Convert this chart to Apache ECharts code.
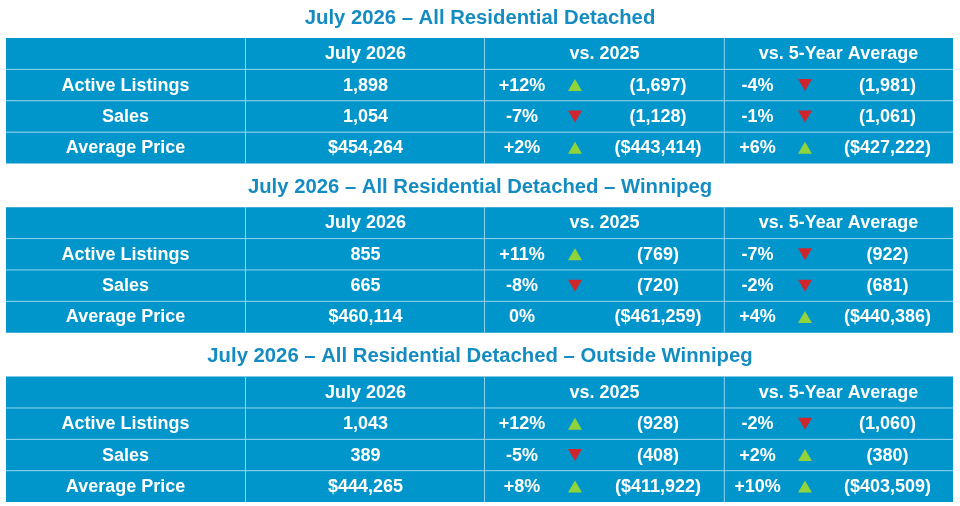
<!DOCTYPE html>
<html>
<head>
<meta charset="utf-8">
<script src="https://cdn.jsdelivr.net/npm/echarts@6/dist/echarts.min.js"></script>
<style>
  html, body { margin: 0; padding: 0; background: #fff; }
  #chart { width: 960px; height: 506px; }
</style>
</head>
<body>
<div id="chart"></div>
<script>
// table data
const tableTitles = [
  'July 2026 \u2013 All Residential Detached',
  'July 2026 \u2013 All Residential Detached \u2013 Winnipeg',
  'July 2026 \u2013 All Residential Detached \u2013 Outside Winnipeg'
];
const columnHeaders = ['', 'July 2026', 'vs. 2025', 'vs. 5-Year Average'];
const rowLabels = ['Active Listings', 'Sales', 'Average Price'];

const julyValues = [
  ['1,898', '1,054', '$454,264'],
  ['855', '665', '$460,114'],
  ['1,043', '389', '$444,265']
];
const vs2025Pct = [
  ['+12%', '-7%', '+2%'],
  ['+11%', '-8%', '0%'],
  ['+12%', '-5%', '+8%']
];
const prev2025 = [
  ['(1,697)', '(1,128)', '($443,414)'],
  ['(769)', '(720)', '($461,259)'],
  ['(928)', '(408)', '($411,922)']
];
const vs5YearPct = [
  ['-4%', '-1%', '+6%'],
  ['-7%', '-2%', '+4%'],
  ['-2%', '+2%', '+10%']
];
const fiveYearAvg = [
  ['(1,981)', '(1,061)', '($427,222)'],
  ['(922)', '(681)', '($440,386)'],
  ['(1,060)', '(380)', '($403,509)']
];

const rowNames = ['header'].concat(rowLabels);

// layout (table-relative x positions, px)
const tableTops = [38, 207.2, 376.6];
const tableHeight = 125.5;
const tableWidth = 947;
const colLines = [239.5, 478.5, 718.3];
const colCenters = { label: 119.5, july: 359.5, pct1: 516, tri1: 569, val1: 652,
                     pct2: 751.5, tri2: 799, val2: 881.5, head1: 598.5, head2: 832.5 };

const BLUE = '#0096cb';
const LINE = '#93d3ee';
const UP = '#8fd43a';
const DOWN = '#cf262d';
const FONT = 'Liberation Sans, Arial, sans-serif';

const chart = echarts.init(document.getElementById('chart'));

function txt(x, y, s) {
  return {
    type: 'text',
    style: { x: x, y: y, text: s, fill: '#fff', font: 'bold 18px ' + FONT,
             textAlign: 'center', textVerticalAlign: 'middle' }
  };
}

// green up / red down marker, none for 0%
function triangle(x, y, pct) {
  const sign = pct.charAt(0);
  if (sign !== '+' && sign !== '-') return null;
  const w = 7, h = 6;
  const pts = sign === '+'
    ? [[x - w, y + h], [x + w, y + h], [x, y - h]]
    : [[x - w, y - h], [x + w, y - h], [x, y + h]];
  return { type: 'polygon', shape: { points: pts },
           style: { fill: sign === '+' ? UP : DOWN } };
}

function makeRender(t) {
  return function (params, api) {
    const r = api.value(0);
    const c = api.coord([0, r]);
    const bandH = api.size([0, 1])[1];
    const x0 = c[0];
    const cy = c[1];
    const top = cy - bandH / 2;
    const X = function (v) { return api.coord([v, r])[0]; };
    const children = [
      { type: 'rect', shape: { x: x0, y: top, width: X(tableWidth) - x0, height: bandH },
        style: { fill: BLUE } }
    ];
    if (r > 0) {
      children.push({ type: 'line', shape: { x1: x0, y1: top, x2: X(tableWidth), y2: top },
                      style: { stroke: LINE, lineWidth: 1 } });
    }
    colLines.forEach(function (v) {
      children.push({ type: 'line', shape: { x1: X(v), y1: top, x2: X(v), y2: top + bandH },
                      style: { stroke: LINE, lineWidth: 1 } });
    });
    const ty = cy + 0.5;
    if (r === 0) {
      children.push(txt(X(colCenters.july), ty, columnHeaders[1]));
      children.push(txt(X(colCenters.head1), ty, columnHeaders[2]));
      children.push(txt(X(colCenters.head2), ty, columnHeaders[3]));
    } else {
      const i = r - 1;
      children.push(txt(X(colCenters.label), ty, rowLabels[i]));
      children.push(txt(X(colCenters.july), ty, julyValues[t][i]));
      children.push(txt(X(colCenters.pct1), ty, vs2025Pct[t][i]));
      children.push(txt(X(colCenters.val1), ty, prev2025[t][i]));
      children.push(txt(X(colCenters.pct2), ty, vs5YearPct[t][i]));
      children.push(txt(X(colCenters.val2), ty, fiveYearAvg[t][i]));
      const a = triangle(X(colCenters.tri1), cy, vs2025Pct[t][i]);
      const b = triangle(X(colCenters.tri2), cy, vs5YearPct[t][i]);
      if (a) children.push(a);
      if (b) children.push(b);
    }
    return { type: 'group', children: children };
  };
}

const grids = [], xAxes = [], yAxes = [], series = [], titles = [];
tableTitles.forEach(function (name, t) {
  grids.push({ left: 6, top: tableTops[t], width: tableWidth, height: tableHeight });
  xAxes.push({ type: 'value', gridIndex: t, min: 0, max: tableWidth, show: false });
  yAxes.push({ type: 'category', gridIndex: t, data: rowNames, inverse: true, show: false });
  series.push({
    type: 'custom',
    xAxisIndex: t,
    yAxisIndex: t,
    data: rowNames.map(function (n, i) { return [i]; }),
    encode: { y: 0 },
    renderItem: makeRender(t),
    silent: true,
    animation: false
  });
  titles.push({
    text: name,
    left: 'center',
    top: tableTops[t] - 30,
    padding: 0,
    textStyle: { color: '#148cc2', fontSize: 20.3, fontWeight: 'bold', fontFamily: FONT }
  });
});

chart.setOption({
  animation: false,
  title: titles,
  grid: grids,
  xAxis: xAxes,
  yAxis: yAxes,
  series: series
});
</script>
</body>
</html>
